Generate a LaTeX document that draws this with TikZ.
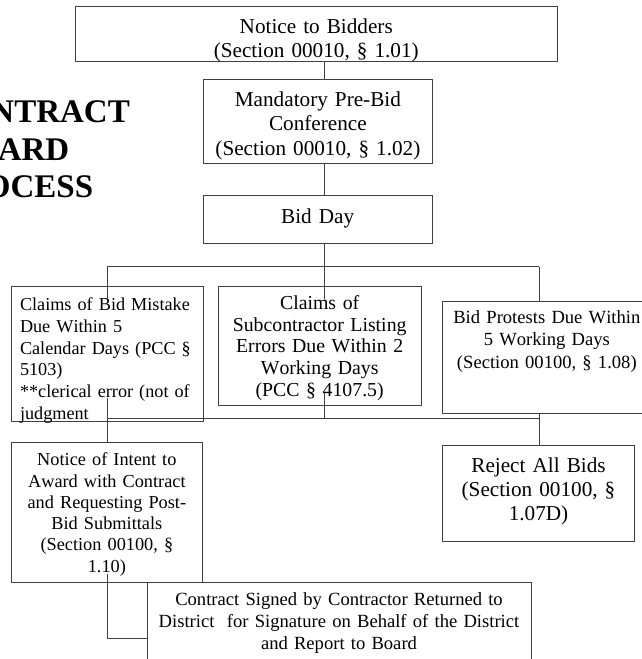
\documentclass[tikz,border=0pt]{standalone}
\usepackage{fontspec}
\setmainfont{Liberation Serif}[Kerning=Off]

\begin{document}
\begin{tikzpicture}[x=1pt,y=-1pt]
    \tikzset{%
      box/.style={draw=black!75, line width=0.9pt, anchor=north west,
        inner xsep=3pt, inner ysep=0pt, outer sep=0pt, align=center},
      fs/.style 2 args={font=\fontsize{#1}{#2}\selectfont},
      link/.style={draw=black!75, line width=0.9pt},
      heading/.style={anchor=north west, inner sep=0pt, outer sep=0pt,
        align=left, text width=220pt, text height=22.7pt,
        font=\bfseries\fontsize{33}{37.3}\selectfont},
    }
    \useasboundingbox (0,0) rectangle (641,659);

    % title, cut at the left edge
    \node[heading] (title) at (-59,100) {CONTRACT\\AWARD\\PROCESS};

    % upper chain
    \node[box, fs={21.2}{24}, text width=476.5pt, text height=27.3pt,
      text depth=28.2pt] (bidders) at (75,6)
      {Notice to Bidders\\(Section 00010, § 1.01)};
    \node[box, fs={21.2}{24.5}, text width=223.2pt, text height=26.5pt,
      text depth=57.5pt] (prebid) at (203.3,79.5)
      {Mandatory Pre-Bid\\Conference\\(Section 00010, § 1.02)};
    \node[box, fs={21.2}{24.5}, text width=222.7pt, text height=27.5pt,
      text depth=20.3pt] (bidday) at (203.3,195.5) {Bid Day};

    % claims and protests
    \node[box, fs={18.2}{21.7}, align=left, inner xsep=9pt, text width=174pt,
      text height=24pt, text depth=111pt] (mistake) at (11,286.7)
      {Claims of Bid Mistake\\Due Within 5\\Calendar Days (PCC §\\5103)\\{}**clerical error (not of\\judgment};
    \node[box, fs={19.8}{21.8}, text width=196.7pt, text height=22.6pt,
      text depth=96.4pt] (listing) at (218.3,286.7)
      {Claims of\\Subcontractor Listing\\Errors Due Within 2\\Working Days\\(PCC § 4107.5)};
    \node[box, fs={18.6}{22.5}, text width=202.3pt, text height=22pt,
      text depth=90pt] (protest) at (442.7,301.3)
      {Bid Protests Due Within\\5 Working Days\\(Section 00100, § 1.08)};

    % outcomes
    \node[box, fs={18.3}{21.3}, text width=185.7pt, text height=23.4pt,
      text depth=116.6pt] (intent) at (11,442.3)
      {Notice of Intent to\\Award with Contract\\and Requesting Post-\\Bid Submittals\\(Section 00100, §\\1.10)};
    \node[box, fs={21.2}{24.3}, text width=185.6pt, text height=26.6pt,
      text depth=69.4pt] (reject) at (442.7,445.7)
      {Reject All Bids\\(Section 00100, §\\1.07D)};
    \node[box, fs={18.6}{22.3}, text width=378pt, text height=22.7pt,
      text depth=63pt] (signed) at (147,582.3)
      {Contract Signed by Contractor Returned to\\District~ for Signature on Behalf of the District\\and Report to Board};

    % junction points
    \coordinate (spine) at (324,0);
    \coordinate (fork) at (324,266.7);
    \coordinate (forkL) at (107,266.7);
    \coordinate (forkR) at (539,266.7);
    \coordinate (tipL) at (107,299);
    \coordinate (tipM) at (324,299);
    \coordinate (startL) at (107,398.3);
    \coordinate (startM) at (324,393.3);
    \coordinate (joinL) at (107,418.3);
    \coordinate (joinM) at (324,418.3);
    \coordinate (joinR) at (539,418.3);
    \coordinate (startN) at (107,574);
    \coordinate (bend) at (107,638.3);

    \draw[link] (bidders.south -| spine) -- (prebid.north -| spine);
    \draw[link] (prebid.south -| spine) -- (bidday.north -| spine);
    \draw[link] (bidday.south -| spine) -- (fork);
    \draw[link] (forkL) -- (forkR);
    \draw[link] (forkL) -- (tipL);
    \draw[link] (fork) -- (tipM);
    \draw[link] (forkR) -- (protest.north -| forkR);

    \draw[link] (startL) -- (intent.north -| startL);
    \draw[link] (joinL) -- (joinR);
    \draw[link] (startM) -- (joinM);
    \draw[link] (protest.south -| joinR) -- (reject.north -| joinR);
    \draw[link] (startN) -- (bend) -- (bend -| signed.west);
\end{tikzpicture}
\end{document}
